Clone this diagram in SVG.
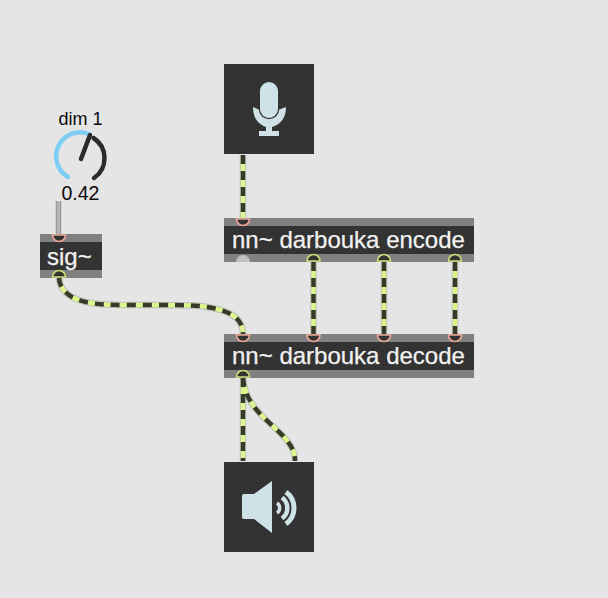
<svg xmlns="http://www.w3.org/2000/svg" width="608" height="598" viewBox="0 0 608 598">
<style>
.t{font-family:"Liberation Sans",Arial,sans-serif;font-size:24px;fill:#f2f2f2;stroke:#f2f2f2;stroke-width:.25}
.d{font-family:"Liberation Sans",Arial,sans-serif;font-size:18px;fill:#0a0a0a;text-anchor:middle}
.body{fill:#333}
.strip{fill:#808080}
.in{fill:#333;stroke:#f0a898;stroke-width:1.6}
.out{fill:#333;stroke:#d4dc78;stroke-width:1.6}
.icon{fill:#cfe2e8}
.arc{fill:none;stroke:#cfe2e8}
.c0{fill:none;stroke:#bdbdbd;stroke-width:6.500}
.c1{fill:none;stroke:#dcf58c;stroke-width:4.500}
.c2{fill:none;stroke:#363a2a;stroke-width:4.500;stroke-dasharray:9 7}
</style>
<defs>
<path id="inl" d="M-6.500 0A6.500 6.500 0 0 0 6.500 0Z" class="in"/>
<path id="oul" d="M-6.500 0A6.500 6.500 0 0 1 6.500 0Z" class="out"/>
</defs>
<rect width="608" height="598" fill="#e5e5e5"/>

<g id="dial">
<text class="d" x="80.500" y="125">dim 1</text>
<path d="M68 177A24 24 0 0 1 89 134" fill="none" stroke="#7dcdf5" stroke-width="4.500" stroke-linecap="round"/>
<path d="M93.500 138A24 24 0 0 1 94 178" fill="none" stroke="#2b2b2b" stroke-width="4.500" stroke-linecap="round"/>
<path d="M81 159L90 135" fill="none" stroke="#2b2b2b" stroke-width="4.500" stroke-linecap="round"/>
<text class="d" x="80.500" y="200" style="font-size:19.500px">0.42</text>
</g>

<g id="sig">
<rect class="body" x="40" y="234" width="62" height="44"/>
<rect class="strip" x="40" y="234" width="62" height="8"/>
<rect class="strip" x="40" y="270" width="62" height="8"/>
<use href="#inl" x="59" y="235"/>
<use href="#oul" x="59" y="277"/>
<text class="t" x="47" y="265">sig~</text>
</g>

<g id="mic">
<rect class="body" x="224" y="64" width="90" height="90"/>
<path class="icon" d="M253 107L260 110H278L286 107C286 118 281 124 272 127V131H279V136H259V131H266V127C258 124 253 118 253 107Z"/>
<rect x="258.800" y="81" width="20.400" height="38.200" rx="10.200" fill="#333"/>
<rect class="icon" x="260" y="82" width="18" height="36" rx="9"/>
</g>

<g id="encode">
<rect class="body" x="224" y="218" width="250" height="44"/>
<rect class="strip" x="224" y="218" width="250" height="8"/>
<rect class="strip" x="224" y="254" width="250" height="8"/>
<use href="#inl" x="243" y="219"/>
<path d="M-7 0A7 7 0 0 1 7 0Z" transform="translate(243 262)" fill="#bfbfbf"/>
<use href="#oul" x="313.500" y="261"/>
<use href="#oul" x="384" y="261"/>
<use href="#oul" x="455" y="261"/>
<text class="t" x="232" y="248">nn~ darbouka encode</text>
</g>

<g id="decode">
<rect class="body" x="224" y="334" width="250" height="44"/>
<rect class="strip" x="224" y="334" width="250" height="8"/>
<rect class="strip" x="224" y="370" width="250" height="8"/>
<use href="#inl" x="243" y="335"/>
<use href="#inl" x="313.500" y="335"/>
<use href="#inl" x="384" y="335"/>
<use href="#inl" x="455" y="335"/>
<use href="#oul" x="243" y="377"/>
<text class="t" x="232" y="364">nn~ darbouka decode</text>
</g>

<g id="speaker">
<rect class="body" x="224" y="462" width="90" height="90"/>
<path class="icon" d="M244 494H254L272 481V533L254 519H244Q242 519 242 517V496Q242 494 244 494Z"/>
<path class="arc" d="M277 503A6 6 0 0 1 277 513" stroke-width="3.500"/>
<path class="arc" d="M282 497.500A13 13 0 0 1 282 518.500" stroke-width="4.500"/>
<path class="arc" d="M286 492A20 20 0 0 1 286 524" stroke-width="5"/>
</g>

<g id="connectors">
<path d="M58.500 201V234" fill="none" stroke="#999" stroke-width="5.500"/>
<path d="M58.500 201V234" fill="none" stroke="#b5b5b5" stroke-width="3"/>
<g id="wire-shadows">
<path class="c0" d="M243 155V218"/>
<path class="c0" d="M313.500 262V334"/>
<path class="c0" d="M384 262V334"/>
<path class="c0" d="M455 262V334"/>
<path class="c0" d="M59 278C60 294 76 303 105 304.500C135 306 175 304 200 306C226 309 243 316 243 334"/>
<path class="c0" d="M243 378V461"/>
<path class="c0" d="M243 378C246 420 295 430 295 461"/>
</g>
<g id="wire-light">
<path class="c1" d="M243 155V218"/>
<path class="c1" d="M313.500 262V334"/>
<path class="c1" d="M384 262V334"/>
<path class="c1" d="M455 262V334"/>
<path class="c1" d="M59 278C60 294 76 303 105 304.500C135 306 175 304 200 306C226 309 243 316 243 334"/>
<path class="c1" d="M243 378V461"/>
<path class="c1" d="M243 378C246 420 295 430 295 461"/>
</g>
<g id="wire-dark">
<path class="c2" d="M243 155V218"/>
<path class="c2" d="M313.500 262V334"/>
<path class="c2" d="M384 262V334"/>
<path class="c2" d="M455 262V334"/>
<path class="c2" d="M59 278C60 294 76 303 105 304.500C135 306 175 304 200 306C226 309 243 316 243 334"/>
<path class="c2" d="M243 378V461"/>
<path class="c2" d="M243 378C246 420 295 430 295 461"/>
</g>
</g>
</svg>
